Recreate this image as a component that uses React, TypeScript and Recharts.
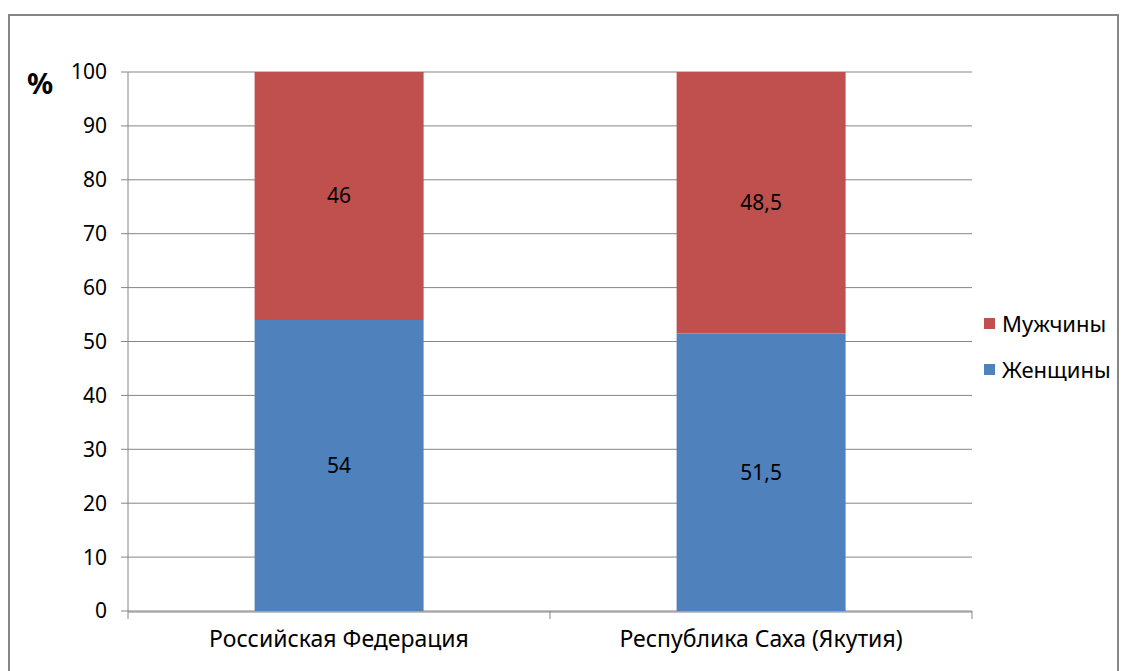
import { BarChart, Bar, XAxis, YAxis, CartesianGrid, LabelList } from "recharts";

const categories = ["Российская Федерация", "Республика Саха (Якутия)"];
const women = [54, 51.5];
const men = [46, 48.5];
const yTicks = [0, 10, 20, 30, 40, 50, 60, 70, 80, 90, 100];

const data = categories.map((name, i) => ({ name, women: women[i], men: men[i], pos: i + 0.5 }));

const font = "Noto Sans, Open Sans, sans-serif";
const gray = "#868686";

const fmt = (v: any) => String(v).replace(".", ",");

function LegendBox() {
  const items = [
    { label: "Мужчины", color: "#C0504D" },
    { label: "Женщины", color: "#4F81BD" },
  ];
  return (
    <div style={{ position: "absolute", left: 976, top: 292, fontFamily: font, fontSize: 22, color: "#000" }}>
      {items.map((it) => (
        <div key={it.label} style={{ display: "flex", alignItems: "center", height: 46 }}>
          <span style={{ width: 11, height: 11, background: it.color, marginRight: 7 }} />
          {it.label}
        </div>
      ))}
    </div>
  );
}

export default function App() {
  return (
    <div style={{ position: "relative", width: 1121, height: 663, fontFamily: font }}>
      <div
        style={{
          position: "absolute",
          left: 0,
          top: 6,
          width: 1111,
          height: 680,
          border: `2px solid ${gray}`,
          boxSizing: "border-box",
        }}
      />
      <div
        style={{
          position: "absolute",
          left: 19,
          top: 55,
          fontSize: 29,
          fontWeight: "bold",
          color: "#000",
        }}
      >
        %
      </div>
      <BarChart
        width={1121}
        height={663}
        data={data}
        margin={{ top: 64, right: 157, bottom: 14, left: 60 }}
        barCategoryGap="30%"
      >
        <CartesianGrid vertical={false} stroke={gray} />
        <XAxis
          xAxisId="b"
          dataKey="pos"
          type="number"
          domain={[0, 2]}
          ticks={[0, 1, 2]}
          tickFormatter={() => ""}
          axisLine={false}
          tickLine={{ stroke: gray }}
          tickSize={8}
          height={1}
        />
        <XAxis
          xAxisId="cat"
          dataKey="name"
          axisLine={{ stroke: gray }}
          tickLine={false}
          tick={{ fill: "#000", fontSize: 23, fontFamily: font }}
          tickMargin={13}
          height={45}
        />
        <YAxis
          domain={[0, 100]}
          ticks={yTicks}
          interval={0}
          width={60}
          axisLine={{ stroke: gray }}
          tickLine={{ stroke: gray }}
          tickSize={7}
          tickMargin={14}
          tick={{ fill: "#000", fontSize: 21, fontFamily: font }}
        />
        <Bar xAxisId="cat" dataKey="women" stackId="a" fill="#4F81BD" isAnimationActive={false}>
          <LabelList dataKey="women" position="center" formatter={fmt} fill="#000" fontSize={21} fontFamily={font} />
        </Bar>
        <Bar xAxisId="cat" dataKey="men" stackId="a" fill="#C0504D" isAnimationActive={false}>
          <LabelList dataKey="men" position="center" formatter={fmt} fill="#000" fontSize={21} fontFamily={font} />
        </Bar>
      </BarChart>
      <LegendBox />
    </div>
  );
}
